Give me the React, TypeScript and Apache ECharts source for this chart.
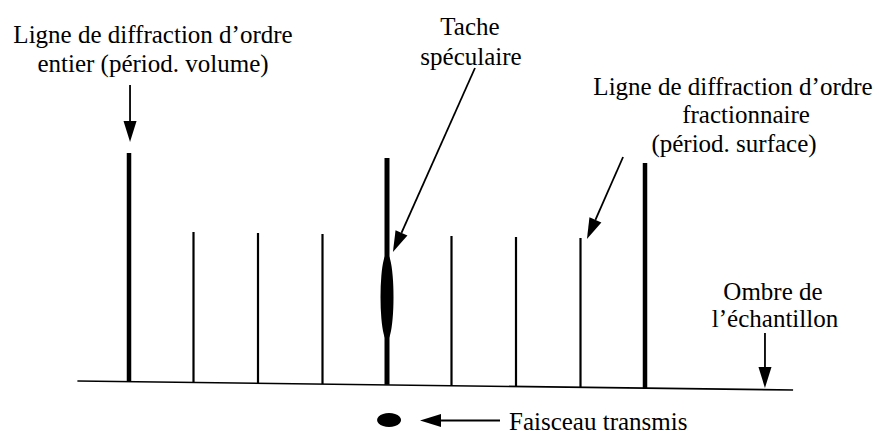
import React, { useEffect, useRef } from "react";
import * as echarts from "echarts";

// Streak positions in units of the bulk reciprocal period
// (integer = bulk period lines, fractional = surface period lines)
const streakOrders = [-1, -0.75, -0.5, -0.25, 0, 0.25, 0.5, 0.75, 1];
// Screen level (px from top) of the top of each streak
const streakTops = [153, 232, 233, 234, 158, 236, 237, 238, 163];
// Level of the shadow edge under each streak
const streakBottoms = [381.5, 382.3, 383.1, 384, 384.8, 385.6, 386.4, 387.2, 388.1];

// Shadow edge (baseline) end points [order, level]
const baselinePoints = [
  [-1.2, 381],
  [1.574, 390],
];

// Specular spot and transmitted beam [order, level]
const specularSpot = [0, 297];
const transmittedSpot = [0.008, 420];

// Arrows [fromOrder, fromLevel, toOrder, toLevel]
const arrows = [
  [-0.996, 85, -0.996, 142],
  [0.341, 68, 0.023, 252],
  [0.915, 157, 0.775, 239],
  [1.465, 333, 1.465, 388],
  [0.438, 420.5, 0.128, 420.5],
];

// Annotation texts
const textLeft = ["Ligne de diffraction d\u2019ordre", "entier (p\u00e9riod. volume)"];
const textTop = ["Tache", "sp\u00e9culaire"];
const textRight = ["Ligne de diffraction d\u2019ordre", "fractionnaire", "(p\u00e9riod. surface)"];
const textShadow = ["Ombre de", "l\u2019\u00e9chantillon"];
const textBeam = ["Faisceau transmis"];

const W = 877;
const H = 439;
const FONT = '"Liberation Serif", "Times New Roman", serif';

export default function App() {
  const ref = useRef<HTMLDivElement>(null);

  useEffect(() => {
    document.body.style.margin = "0";
    if (!ref.current) return;
    const chart = echarts.init(ref.current, null, { renderer: "svg" });

    const txt = (text: string, x: number, y: number, align: string = "center") => ({
      type: "text",
      x,
      y,
      style: {
        text,
        fill: "#000",
        fontSize: 25,
        fontFamily: FONT,
        textAlign: align,
        textVerticalAlign: "middle",
      },
    });

    const option: any = {
      animation: false,
      backgroundColor: "#fff",
      grid: { left: 0, right: 0, top: 0, bottom: 0 },
      xAxis: {
        type: "value",
        min: -387 / 258,
        max: (W - 387) / 258,
        show: false,
      },
      yAxis: {
        type: "value",
        min: 0,
        max: H,
        inverse: true,
        show: false,
      },
      series: [
        {
          type: "line",
          data: baselinePoints,
          symbol: "none",
          lineStyle: { color: "#000", width: 1.6 },
          silent: true,
        },
        {
          type: "custom",
          data: streakOrders.map((o, i) => [o, streakTops[i], streakBottoms[i]]),
          renderItem: (params: any, api: any) => {
            const o = api.value(0);
            const p1 = api.coord([o, api.value(1)]);
            const p2 = api.coord([o, api.value(2)]);
            const thick = Number.isInteger(o);
            return {
              type: "line",
              shape: { x1: p1[0], y1: p1[1], x2: p2[0], y2: p2[1] },
              style: { stroke: "#000", lineWidth: thick ? (o === 0 ? 5 : 4.5) : 2.2 },
            };
          },
          silent: true,
        },
        {
          type: "scatter",
          data: [specularSpot],
          symbol: "circle",
          symbolSize: [13, 86],
          itemStyle: { color: "#000", opacity: 1 },
          silent: true,
          z: 3,
        },
        {
          type: "scatter",
          data: [transmittedSpot],
          symbol: "circle",
          symbolSize: [24, 14],
          itemStyle: { color: "#000", opacity: 1 },
          silent: true,
          z: 3,
        },
        {
          type: "custom",
          data: arrows,
          renderItem: (params: any, api: any) => {
            const a = api.coord([api.value(0), api.value(1)]);
            const b = api.coord([api.value(2), api.value(3)]);
            const dx = b[0] - a[0];
            const dy = b[1] - a[1];
            const len = Math.sqrt(dx * dx + dy * dy);
            const ux = dx / len;
            const uy = dy / len;
            const hl = 21;
            const hw = 6.5;
            const bx = b[0] - ux * hl;
            const by = b[1] - uy * hl;
            return {
              type: "group",
              children: [
                {
                  type: "line",
                  shape: { x1: a[0], y1: a[1], x2: bx, y2: by },
                  style: { stroke: "#000", lineWidth: 1.8 },
                },
                {
                  type: "polygon",
                  shape: {
                    points: [
                      [b[0], b[1]],
                      [bx - uy * hw, by + ux * hw],
                      [bx + uy * hw, by - ux * hw],
                    ],
                  },
                  style: { fill: "#000" },
                },
              ],
            };
          },
          silent: true,
        },
      ],
      graphic: [
        txt(textLeft[0], 153, 34),
        txt(textLeft[1], 153, 63),
        txt(textTop[0], 470, 26),
        txt(textTop[1], 471, 56),
        txt(textRight[0], 733, 86),
        txt(textRight[1], 746, 114),
        txt(textRight[2], 734, 143),
        txt(textShadow[0], 773, 291),
        txt(textShadow[1], 775, 318),
        txt(textBeam[0], 509, 421, "left"),
      ],
    };

    chart.setOption(option);
    return () => chart.dispose();
  }, []);

  return <div ref={ref} style={{ width: W, height: H }} />;
}
